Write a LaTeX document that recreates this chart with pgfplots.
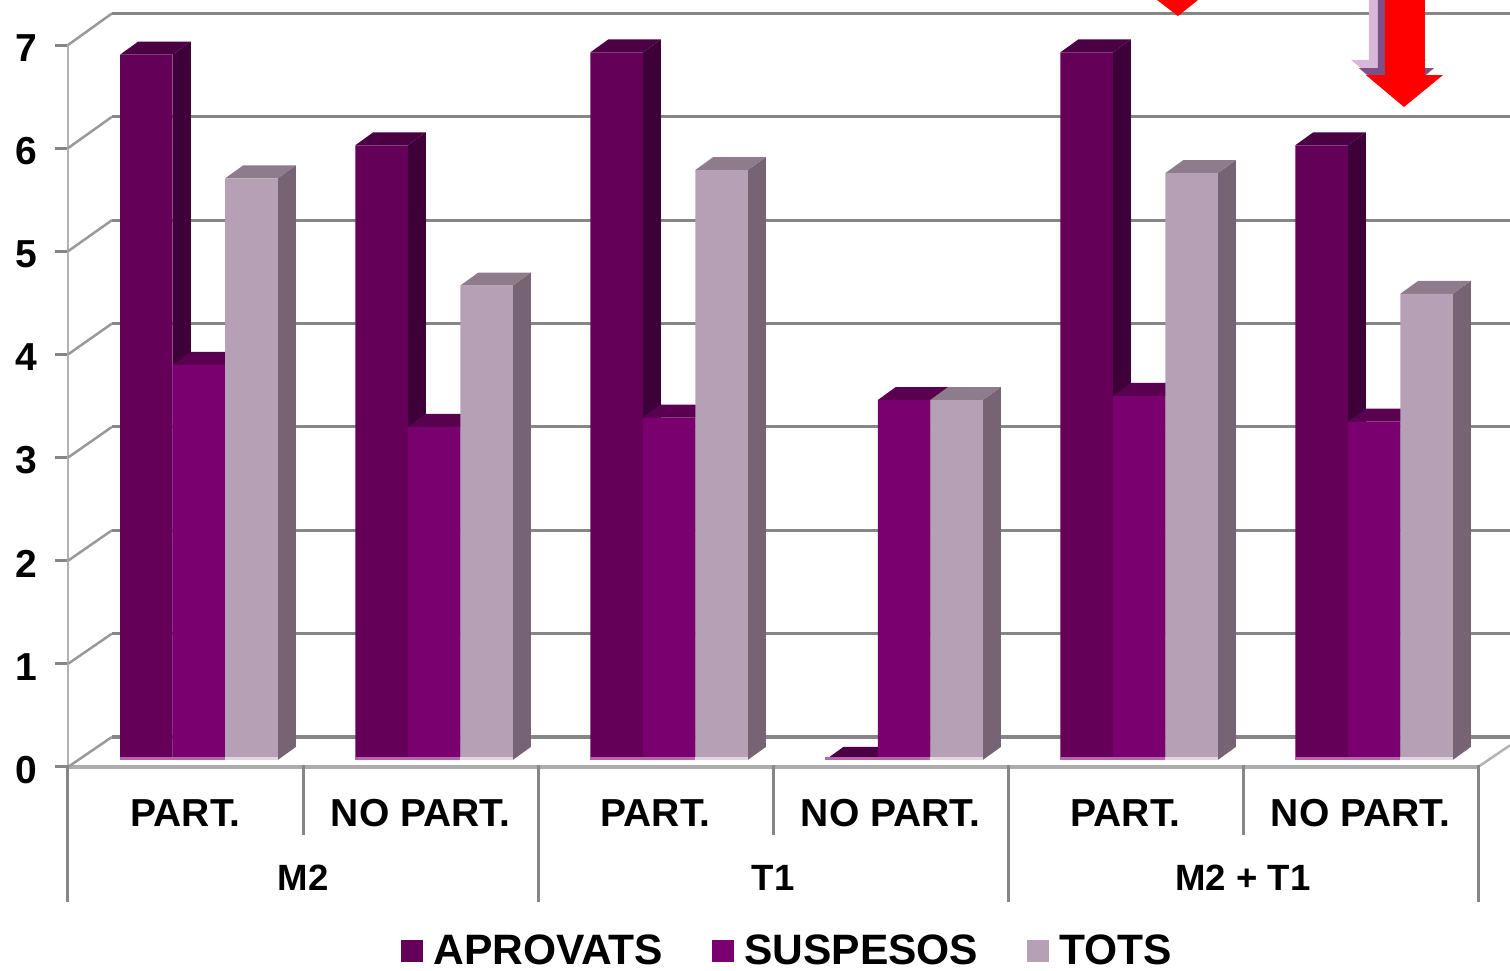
\documentclass[border=0pt]{standalone}
\usepackage{fontspec}
\setmainfont{Liberation Sans}
\usepackage{pgfplots}
\usepackage{pgfplotstable}
\pgfplotsset{compat=1.18}

\definecolor{apfront}{HTML}{650058}
\definecolor{apside}{HTML}{3E0038}
\definecolor{aptop}{HTML}{4C0044}
\definecolor{sufront}{HTML}{7B006F}
\definecolor{suside}{HTML}{4A0043}
\definecolor{sutop}{HTML}{5A0050}
\definecolor{tofront}{HTML}{B5A0B5}
\definecolor{toside}{HTML}{766475}
\definecolor{totop}{HTML}{8E7C8C}
\definecolor{gridc}{HTML}{868686}
\definecolor{lilac}{HTML}{D8B8D8}
\definecolor{lilacd}{HTML}{7E5088}
\definecolor{stripa}{HTML}{B565AE}
\definecolor{stripb}{HTML}{E2D6E2}

\pgfplotstableread{
x   apr   sus   tots
0.5 6.84  3.83  5.64
1.5 5.96  3.23  4.60
2.5 6.86  3.32  5.72
3.5 0     3.49  3.49
4.5 6.86  3.53  5.69
5.5 5.96  3.28  4.52
}\vals

\newcommand\grp{\fontsize{10.4}{12}\selectfont}

% side and top faces of one series, k = -1, 0, 1 is the place in the group
\newcommand\faces[4]{%
  \pgfplotsforeachungrouped \rw in {0,...,5}{%
    \pgfplotstablegetelem{\rw}{#1}\of\vals
    \pgfmathsetmacro\xl{\rw+0.5+(13.5+(#2-0.5)*52.5)/235}
    \pgfmathsetmacro\xr{\xl+52.5/235}
    \pgfmathsetmacro\ytop{\pgfplotsretval+7/103.14}
    \pgfmathsetmacro\xlb{\xl+0.0766}
    \pgfmathsetmacro\xrb{\xr+0.0766}
    \pgfmathsetmacro\ytopb{\ytop+0.126}
    \pgfmathsetmacro\ybase{7/103.14}
    \pgfmathsetmacro\ybaseb{\ybase+0.126}
    \addplot[fill=#3,draw=none,forget plot] coordinates {(\xr,\ybase) (\xr,\ytop) (\xrb,\ytopb) (\xrb,\ybaseb)};
    \addplot[fill=#4,draw=none,forget plot] coordinates {(\xl,\ytop) (\xr,\ytop) (\xrb,\ytopb) (\xlb,\ytopb)};
  }%
}

\begin{document}
\begin{tikzpicture}
\useasboundingbox (0,0) rectangle (15.1cm,9.7cm);
\begin{axis}[
  at={(0.68cm,2.03cm)}, anchor=south west,
  scale only axis,
  width=14.1cm, height=7.22cm,
  xmin=0, xmax=6, ymin=0, ymax=7,
  clip=false,
  axis x line*=bottom, axis y line*=left,
  x axis line style={-, color=gray!65, line width=0.045cm},
  y axis line style={-, color=gray!60, line width=0.025cm},
  xtick={0.5,1.5,2.5,3.5,4.5,5.5},
  xticklabels={PART.,NO PART.,PART.,NO PART.,PART.,NO PART.},
  extra x ticks={1,3,5},
  extra x tick labels={{\grp M2},{\grp T1},{\grp M2 + T1}},
  extra x tick style={tick label style={yshift=-0.66cm}},
  ytick={0,1,...,7},
  tick align=outside,
  major tick length=0.13cm,
  x tick style={draw=none},
  y tick style={color=gridc, line width=0.03cm},
  xticklabel style={font=\fontsize{11.1}{12}\selectfont\bfseries, yshift=-0.07cm},
  yticklabel style={font=\fontsize{11.1}{12}\selectfont\bfseries, xshift=-0.05cm, yshift=-0.03cm},
  /pgf/number format/assume math mode=true,
  legend columns=3,
  legend style={at={(axis cs:3.073,-1.793)}, anchor=center, draw=none, fill=none,
    inner sep=0pt, outer sep=0pt,
    font=\fontsize{12.1}{14}\selectfont\bfseries,
    /tikz/every odd column/.append style={column sep=0.03cm},
    /tikz/every even column/.append style={column sep=0.42cm}},
  front/.style={ybar, bar width=0.525cm, xshift=0.135cm, yshift=0.07cm, draw=none,
    legend image code/.code={\fill[##1] (0cm,-0.17cm) rectangle (0.22cm,0.05cm);}},
]
  % back wall
  \pgfplotsinvokeforeach{0,...,7}{
    \pgfmathsetmacro\yb{#1*1.0022+0.291}
    \addplot[color=gridc, line width=0.032cm, forget plot] coordinates {(0.1872,\yb) (6.136,\yb)};
    \addplot[color=gray!80, line width=0.025cm, forget plot] coordinates {(0,#1) (0.1872,\yb)};
  }
  \addplot[color=gray!60, line width=0.025cm, forget plot] coordinates {(6,0) (6.136,0.21)};

  % separators under the axis
  \pgfplotsinvokeforeach{1,3,5}{
    \addplot[color=gridc, line width=0.03cm, forget plot] coordinates {(#1,0.02) (#1,-0.659)};
  }
  \pgfplotsinvokeforeach{0,2,4,6}{
    \addplot[color=gridc, line width=0.03cm, forget plot] coordinates {(#1,0.02) (#1,-1.309)};
  }

  \faces{apr}{-1}{apside}{aptop}
  \addplot[front, fill=apfront, bar shift=-0.525cm] table[x=x,y=apr] {\vals};
  \addlegendentry{APROVATS}
  \faces{sus}{0}{suside}{sutop}
  \addplot[front, fill=sufront, bar shift=0cm] table[x=x,y=sus] {\vals};
  \addlegendentry{SUSPESOS}
  \faces{tots}{1}{toside}{totop}
  \addplot[front, fill=tofront, bar shift=0.525cm] table[x=x,y=tots] {\vals};
  \addlegendentry{TOTS}

  % light strip at the foot of the bars
  \pgfplotsinvokeforeach{0,...,5}{
    \pgfmathsetmacro\sa{#1+0.5+(13.5-78.75)/235}
    \pgfmathsetmacro\sb{#1+0.5+(13.5+26.25)/235}
    \pgfmathsetmacro\sc{#1+0.5+(13.5+78.75)/235}
    \addplot[color=stripa, line width=0.03cm, forget plot] coordinates {(\sa,0.0776) (\sb,0.0776)};
    \addplot[color=stripb, line width=0.03cm, forget plot] coordinates {(\sb,0.0776) (\sc,0.0776)};
  }

  % arrows cut off by the top edge
  \addplot[fill=red,draw=none,forget plot] coordinates {(4.634,7.437) (4.809,7.437) (4.723,7.281)};
  \addplot[fill=lilac,draw=none,forget plot] coordinates {(5.536,7.437) (5.604,7.437) (5.604,6.855) (5.779,6.855) (5.62,6.55) (5.46,6.855) (5.536,6.855)};
  \addplot[fill=lilacd,draw=none,forget plot] coordinates {(5.574,7.437) (5.62,7.437) (5.62,6.777) (5.813,6.777) (5.653,6.47) (5.493,6.777) (5.574,6.777)};
  \addplot[fill=red,draw=none,forget plot] coordinates {(5.604,7.437) (5.774,7.437) (5.774,6.709) (5.851,6.709) (5.685,6.399) (5.523,6.709) (5.604,6.709)};
\end{axis}
\end{tikzpicture}
\end{document}
